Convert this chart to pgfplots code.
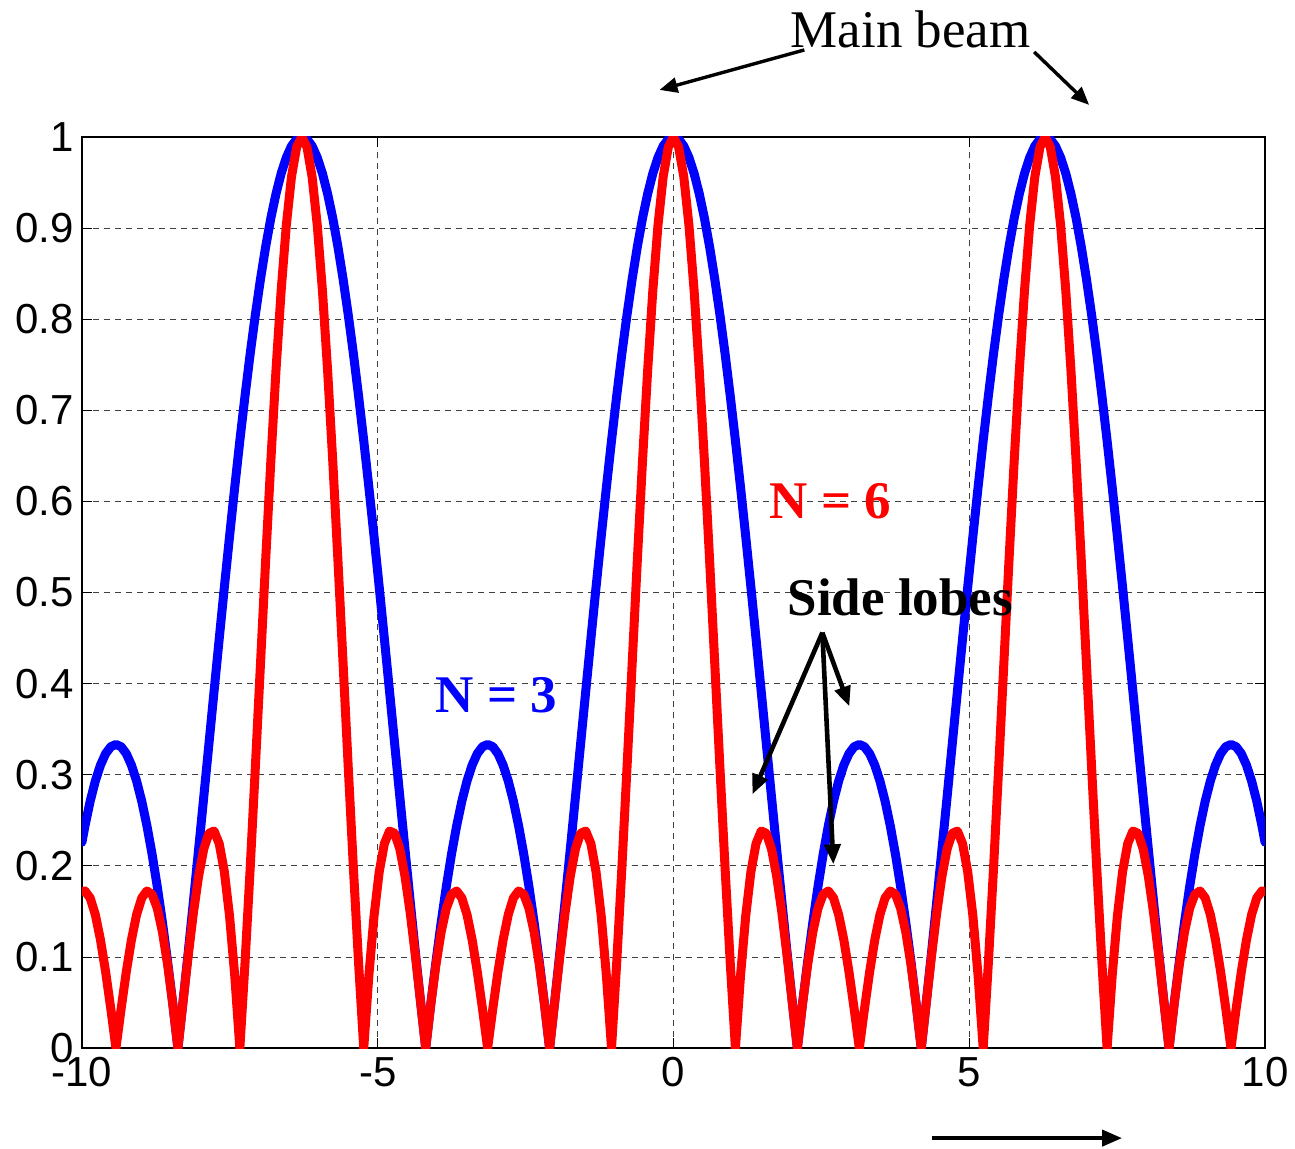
\documentclass[border=0pt]{standalone}
\usepackage{pgfplots}
\pgfplotsset{compat=1.18}
\usepackage{pgfplotstable}
\usepackage{fontspec}
\setmainfont{Liberation Serif}
\newfontfamily\arialf{Liberation Sans}
\usetikzlibrary{arrows.meta}

% Array factor |AF| of a uniform linear array versus psi, for N = 3 and N = 6
\pgfplotstableread{
psi a3 a6
-10.0000 0.2260 0.1717
-9.9484 0.2440 0.1725
-9.8611 0.2709 0.1649
-9.7738 0.2931 0.1466
-9.6866 0.3106 0.1189
-9.5993 0.3232 0.0837
-9.5120 0.3308 0.0432
-9.4248 0.3333 0.0000
-9.3375 0.3308 0.0432
-9.2502 0.3232 0.0837
-9.1630 0.3106 0.1189
-9.0757 0.2931 0.1466
-8.9884 0.2709 0.1649
-8.9012 0.2440 0.1725
-8.8139 0.2128 0.1688
-8.7266 0.1774 0.1536
-8.6394 0.1381 0.1276
-8.5521 0.0952 0.0919
-8.4648 0.0491 0.0486
-8.3776 0.0000 0.0000
-8.2903 0.0516 0.0511
-8.2030 0.1053 0.1017
-8.1158 0.1608 0.1485
-8.0285 0.2176 0.1884
-7.9412 0.2752 0.2184
-7.8540 0.3333 0.2357
-7.7667 0.3914 0.2383
-7.6794 0.4491 0.2245
-7.5922 0.5059 0.1936
-7.5049 0.5613 0.1453
-7.4176 0.6151 0.0803
-7.3304 0.6667 0.0000
-7.2431 0.7157 0.0934
-7.1559 0.7619 0.1972
-7.0686 0.8047 0.3080
-6.9813 0.8440 0.4220
-6.8941 0.8794 0.5354
-6.8068 0.9107 0.6440
-6.7195 0.9375 0.7438
-6.6323 0.9598 0.8312
-6.5450 0.9773 0.9029
-6.4577 0.9899 0.9561
-6.3705 0.9975 0.9889
-6.2832 1.0000 1.0000
-6.1959 0.9975 0.9889
-6.1087 0.9899 0.9561
-6.0214 0.9773 0.9029
-5.9341 0.9598 0.8312
-5.8469 0.9375 0.7438
-5.7596 0.9107 0.6440
-5.6723 0.8794 0.5354
-5.5851 0.8440 0.4220
-5.4978 0.8047 0.3080
-5.4105 0.7619 0.1972
-5.3233 0.7157 0.0934
-5.2360 0.6667 0.0000
-5.1487 0.6151 0.0803
-5.0615 0.5613 0.1453
-4.9742 0.5059 0.1936
-4.8869 0.4491 0.2245
-4.7997 0.3914 0.2383
-4.7124 0.3333 0.2357
-4.6251 0.2752 0.2184
-4.5379 0.2176 0.1884
-4.4506 0.1608 0.1485
-4.3633 0.1053 0.1017
-4.2761 0.0516 0.0511
-4.1888 0.0000 0.0000
-4.1015 0.0491 0.0486
-4.0143 0.0952 0.0919
-3.9270 0.1381 0.1276
-3.8397 0.1774 0.1536
-3.7525 0.2128 0.1688
-3.6652 0.2440 0.1725
-3.5779 0.2709 0.1649
-3.4907 0.2931 0.1466
-3.4034 0.3106 0.1189
-3.3161 0.3232 0.0837
-3.2289 0.3308 0.0432
-3.1416 0.3333 0.0000
-3.0543 0.3308 0.0432
-2.9671 0.3232 0.0837
-2.8798 0.3106 0.1189
-2.7925 0.2931 0.1466
-2.7053 0.2709 0.1649
-2.6180 0.2440 0.1725
-2.5307 0.2128 0.1688
-2.4435 0.1774 0.1536
-2.3562 0.1381 0.1276
-2.2689 0.0952 0.0919
-2.1817 0.0491 0.0486
-2.0944 0.0000 0.0000
-2.0071 0.0516 0.0511
-1.9199 0.1053 0.1017
-1.8326 0.1608 0.1485
-1.7453 0.2176 0.1884
-1.6581 0.2752 0.2184
-1.5708 0.3333 0.2357
-1.4835 0.3914 0.2383
-1.3963 0.4491 0.2245
-1.3090 0.5059 0.1936
-1.2217 0.5613 0.1453
-1.1345 0.6151 0.0803
-1.0472 0.6667 0.0000
-0.9599 0.7157 0.0934
-0.8727 0.7619 0.1972
-0.7854 0.8047 0.3080
-0.6981 0.8440 0.4220
-0.6109 0.8794 0.5354
-0.5236 0.9107 0.6440
-0.4363 0.9375 0.7438
-0.3491 0.9598 0.8312
-0.2618 0.9773 0.9029
-0.1745 0.9899 0.9561
-0.0873 0.9975 0.9889
0.0000 1.0000 1.0000
0.0873 0.9975 0.9889
0.1745 0.9899 0.9561
0.2618 0.9773 0.9029
0.3491 0.9598 0.8312
0.4363 0.9375 0.7438
0.5236 0.9107 0.6440
0.6109 0.8794 0.5354
0.6981 0.8440 0.4220
0.7854 0.8047 0.3080
0.8727 0.7619 0.1972
0.9599 0.7157 0.0934
1.0472 0.6667 0.0000
1.1345 0.6151 0.0803
1.2217 0.5613 0.1453
1.3090 0.5059 0.1936
1.3963 0.4491 0.2245
1.4835 0.3914 0.2383
1.5708 0.3333 0.2357
1.6581 0.2752 0.2184
1.7453 0.2176 0.1884
1.8326 0.1608 0.1485
1.9199 0.1053 0.1017
2.0071 0.0516 0.0511
2.0944 0.0000 0.0000
2.1817 0.0491 0.0486
2.2689 0.0952 0.0919
2.3562 0.1381 0.1276
2.4435 0.1774 0.1536
2.5307 0.2128 0.1688
2.6180 0.2440 0.1725
2.7053 0.2709 0.1649
2.7925 0.2931 0.1466
2.8798 0.3106 0.1189
2.9671 0.3232 0.0837
3.0543 0.3308 0.0432
3.1416 0.3333 0.0000
3.2289 0.3308 0.0432
3.3161 0.3232 0.0837
3.4034 0.3106 0.1189
3.4907 0.2931 0.1466
3.5779 0.2709 0.1649
3.6652 0.2440 0.1725
3.7525 0.2128 0.1688
3.8397 0.1774 0.1536
3.9270 0.1381 0.1276
4.0143 0.0952 0.0919
4.1015 0.0491 0.0486
4.1888 0.0000 0.0000
4.2761 0.0516 0.0511
4.3633 0.1053 0.1017
4.4506 0.1608 0.1485
4.5379 0.2176 0.1884
4.6251 0.2752 0.2184
4.7124 0.3333 0.2357
4.7997 0.3914 0.2383
4.8869 0.4491 0.2245
4.9742 0.5059 0.1936
5.0615 0.5613 0.1453
5.1487 0.6151 0.0803
5.2360 0.6667 0.0000
5.3233 0.7157 0.0934
5.4105 0.7619 0.1972
5.4978 0.8047 0.3080
5.5851 0.8440 0.4220
5.6723 0.8794 0.5354
5.7596 0.9107 0.6440
5.8469 0.9375 0.7438
5.9341 0.9598 0.8312
6.0214 0.9773 0.9029
6.1087 0.9899 0.9561
6.1959 0.9975 0.9889
6.2832 1.0000 1.0000
6.3705 0.9975 0.9889
6.4577 0.9899 0.9561
6.5450 0.9773 0.9029
6.6323 0.9598 0.8312
6.7195 0.9375 0.7438
6.8068 0.9107 0.6440
6.8941 0.8794 0.5354
6.9813 0.8440 0.4220
7.0686 0.8047 0.3080
7.1559 0.7619 0.1972
7.2431 0.7157 0.0934
7.3304 0.6667 0.0000
7.4176 0.6151 0.0803
7.5049 0.5613 0.1453
7.5922 0.5059 0.1936
7.6794 0.4491 0.2245
7.7667 0.3914 0.2383
7.8540 0.3333 0.2357
7.9412 0.2752 0.2184
8.0285 0.2176 0.1884
8.1158 0.1608 0.1485
8.2030 0.1053 0.1017
8.2903 0.0516 0.0511
8.3776 0.0000 0.0000
8.4648 0.0491 0.0486
8.5521 0.0952 0.0919
8.6394 0.1381 0.1276
8.7266 0.1774 0.1536
8.8139 0.2128 0.1688
8.9012 0.2440 0.1725
8.9884 0.2709 0.1649
9.0757 0.2931 0.1466
9.1630 0.3106 0.1189
9.2502 0.3232 0.0837
9.3375 0.3308 0.0432
9.4248 0.3333 0.0000
9.5120 0.3308 0.0432
9.5993 0.3232 0.0837
9.6866 0.3106 0.1189
9.7738 0.2931 0.1466
9.8611 0.2709 0.1649
9.9484 0.2440 0.1725
10.0000 0.2260 0.1717
}\afdata

\begin{document}
\begin{tikzpicture}
\begin{axis}[
  scale only axis,
  width=592pt, height=456pt,
  xmin=-10, xmax=10, ymin=0, ymax=1,
  xtick={-10,-5,0,5,10},
  xticklabels={-10,-5,0,5,10},
  ytick={0,0.1,0.2,0.3,0.4,0.5,0.6,0.7,0.8,0.9,1},
  yticklabels={0,0.1,0.2,0.3,0.4,0.5,0.6,0.7,0.8,0.9,1},
  tick label style={font=\arialf\fontsize{21}{23}\selectfont, black},
  xticklabel style={yshift=-1pt},
  yticklabel style={xshift=-0.5pt},
  tick align=inside,
  major tick length=5pt,
  tick style={black, line width=0.5pt},
  axis line style={black, line width=0.7pt},
  grid=major,
  major grid style={black!75, line width=0.45pt, dash pattern=on 3pt off 2.5pt},
  clip mode=individual,
]
\addplot[blue, line width=4.5pt, line join=round, line cap=round] table[x=psi, y=a3] \afdata;
\addplot[red, line width=4.5pt, line join=round, line cap=round] table[x=psi, y=a6] \afdata;

% annotations
\node[anchor=base, font=\fontsize{26.5}{30}\selectfont] at (axis cs:4.01,1.0976) {Main beam};
\draw[line width=1.7pt, -{Triangle[length=9pt,width=7.5pt]}] (axis cs:2.213,1.0954) -- (axis cs:-0.236,1.0515);
\draw[line width=1.7pt, -{Triangle[length=9pt,width=7.5pt]}] (axis cs:6.098,1.0932) -- (axis cs:7.027,1.0351);

\node[red, font=\bfseries\fontsize{26.5}{30}\selectfont] at (axis cs:2.65,0.600) {N = 6};
\node[blue, font=\bfseries\fontsize{26.5}{30}\selectfont] at (axis cs:-2.99,0.387) {N = 3};
\node[black, font=\bfseries\fontsize{26.5}{30}\selectfont] at (axis cs:3.834,0.4945) {Side lobes};

\draw[line width=2.3pt, -{Triangle[length=10pt,width=8pt]}] (axis cs:2.517,0.456) -- (axis cs:1.334,0.2785);
\draw[line width=2.3pt, -{Triangle[length=10pt,width=8pt]}] (axis cs:2.517,0.456) -- (axis cs:2.973,0.375);
\draw[line width=2.3pt, -{Triangle[length=10pt,width=8pt]}] (axis cs:2.517,0.456) -- (axis cs:2.703,0.2018);

\draw[line width=2pt, -{Triangle[length=10pt,width=8pt]}] (axis cs:4.375,-0.0987) -- (axis cs:7.584,-0.0987);
\end{axis}
\path ([shift={(-41pt,-50pt)}]current axis.south west) rectangle ([shift={(14.5pt,68.5pt)}]current axis.north east);
\end{tikzpicture}
\end{document}
